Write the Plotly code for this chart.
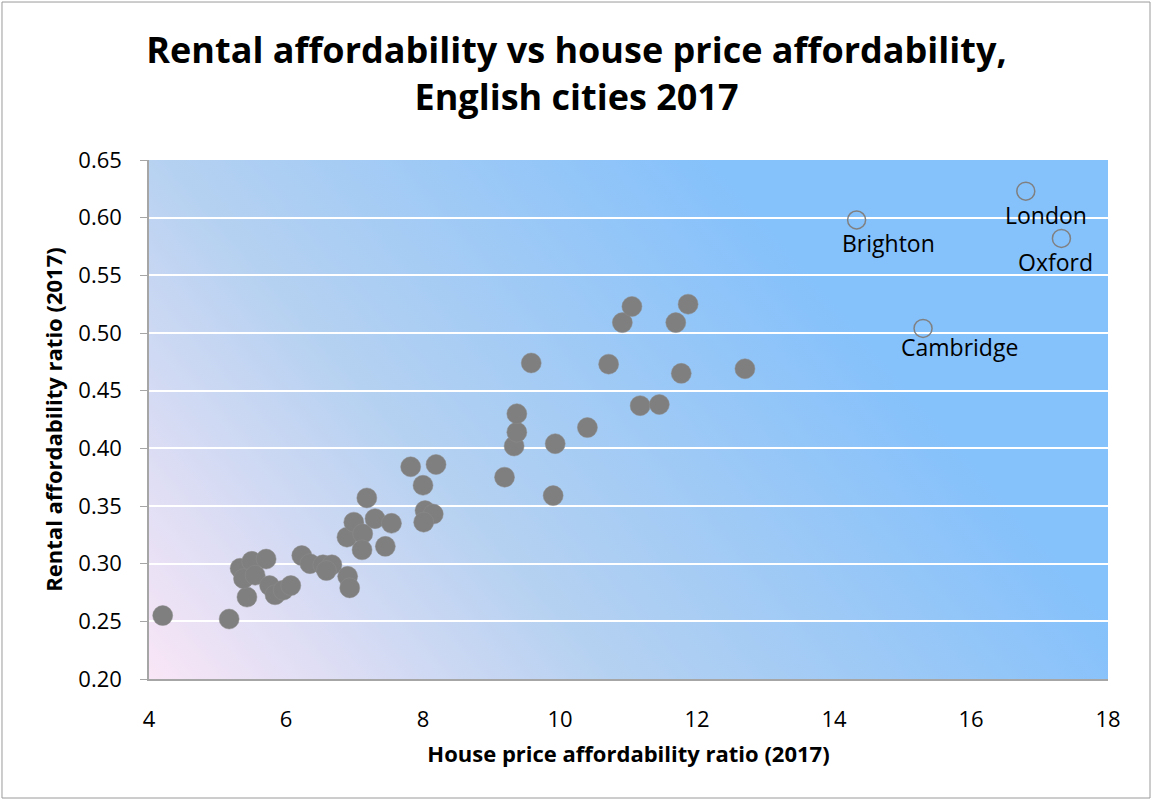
import base64
import plotly.graph_objects as go

# House price affordability ratio vs rental affordability ratio, 2017
house_ratio = [4.20, 5.17, 5.43, 5.33, 5.50, 5.38, 5.55, 5.71, 5.76, 5.84,
               5.96, 6.07, 6.23, 6.35, 6.54, 6.67, 6.59, 6.90, 6.93, 6.89,
               6.99, 7.12, 7.11, 7.18, 7.30, 7.54, 7.45, 7.82, 8.19, 8.00,
               8.03, 8.15, 8.01, 9.19, 9.90, 9.33, 9.37, 9.37, 9.93, 10.40,
               9.58, 10.71, 11.17, 11.45, 11.77, 12.70, 10.91, 11.05, 11.69, 11.87]
rent_ratio = [0.255, 0.252, 0.271, 0.296, 0.302, 0.287, 0.290, 0.304, 0.281, 0.273,
              0.277, 0.281, 0.307, 0.300, 0.299, 0.299, 0.294, 0.289, 0.279, 0.323,
              0.336, 0.326, 0.312, 0.357, 0.339, 0.335, 0.315, 0.384, 0.386, 0.368,
              0.346, 0.343, 0.336, 0.375, 0.359, 0.402, 0.414, 0.430, 0.404, 0.418,
              0.474, 0.473, 0.437, 0.438, 0.465, 0.469, 0.509, 0.523, 0.509, 0.525]

# Highlighted cities
city_names = ["London", "Brighton", "Oxford", "Cambridge"]
city_house = [16.80, 14.33, 17.32, 15.30]
city_rent = [0.623, 0.598, 0.582, 0.504]
# label offsets in pixels (dx, dy)
label_offsets = {"London": (20, -24), "Brighton": (32, -23),
                 "Oxford": (-6, -24), "Cambridge": (36, -19)}

FONT = "Open Sans, Noto Sans, sans-serif"

# Diagonal pink-to-blue plot background
W, H = 959, 519
svg = f'''<svg xmlns="http://www.w3.org/2000/svg" width="{W}" height="{H}" viewBox="0 0 {W} {H}" preserveAspectRatio="none">
<defs><linearGradient id="g" gradientUnits="userSpaceOnUse" x1="0" y1="{H}" x2="804" y2="-178">
<stop offset="0" stop-color="#f9e6f6"/>
<stop offset="0.33" stop-color="#b5d1f1"/>
<stop offset="0.72" stop-color="#85c1fb"/>
<stop offset="1" stop-color="#85c1fb"/>
</linearGradient></defs>
<rect x="0" y="0" width="{W}" height="{H}" fill="url(#g)"/></svg>'''
bg_uri = "data:image/svg+xml;base64," + base64.b64encode(svg.encode()).decode()

fig = go.Figure()
fig.add_trace(go.Scatter(
    x=house_ratio, y=rent_ratio, mode="markers",
    marker=dict(size=20, color="#7f7f7f", line=dict(width=0.5, color="#8c8c8c")),
    showlegend=False, hoverinfo="x+y"))
fig.add_trace(go.Scatter(
    x=city_house, y=city_rent, mode="markers", text=city_names,
    marker=dict(size=18, color="rgba(0,0,0,0)", line=dict(width=1.5, color="#808080")),
    showlegend=False, hoverinfo="text+x+y"))

for name, hx, ry in zip(city_names, city_house, city_rent):
    dx, dy = label_offsets[name]
    fig.add_annotation(x=hx, y=ry, text=name, showarrow=False,
                       xshift=dx, yshift=dy,
                       font=dict(family=FONT, size=23, color="#000000"))

fig.add_layout_image(dict(source=bg_uri, xref="paper", yref="paper", x=0, y=1,
                          sizex=1, sizey=1, sizing="stretch", xanchor="left",
                          yanchor="top", layer="below"))

# Outer chart border
fig.add_shape(type="rect", xref="paper", yref="paper",
              x0=-0.1533, x1=1.0438, y0=-0.2293, y1=1.3044,
              line=dict(color="#9a9a9a", width=1), fillcolor="rgba(0,0,0,0)")

fig.update_layout(
    width=1153, height=801,
    margin=dict(l=149, r=45, t=160, b=122),
    paper_bgcolor="white", plot_bgcolor="rgba(0,0,0,0)",
    font=dict(family=FONT, color="#000000"),
    title=dict(text="<b>Rental affordability vs house price affordability,<br>English cities 2017</b>",
               x=0.5, xanchor="center", xref="container", y=0.921, yanchor="middle", yref="container",
               font=dict(family=FONT, size=36, color="#000000")),
    xaxis=dict(range=[4, 18], dtick=2, tick0=4, showgrid=False, zeroline=False,
               showline=True, linecolor="#a6a6a6", linewidth=1.5, ticks="",
               tickfont=dict(size=22), ticklabelstandoff=20,
               title=dict(text="<b>House price affordability ratio (2017)</b>",
                          font=dict(size=22), standoff=14)),
    yaxis=dict(range=[0.2, 0.65], dtick=0.05, tick0=0.2, tickformat=".2f",
               showgrid=True, gridcolor="#ffffff", gridwidth=1.5, zeroline=False,
               showline=True, linecolor="#a6a6a6", linewidth=1.5,
               ticks="outside", ticklen=7, tickcolor="#a6a6a6",
               tickfont=dict(size=22), ticklabelstandoff=14,
               title=dict(text="<b>Rental affordability ratio (2017)</b>",
                          font=dict(size=22), standoff=10)),
)

fig.write_html("out.html")
